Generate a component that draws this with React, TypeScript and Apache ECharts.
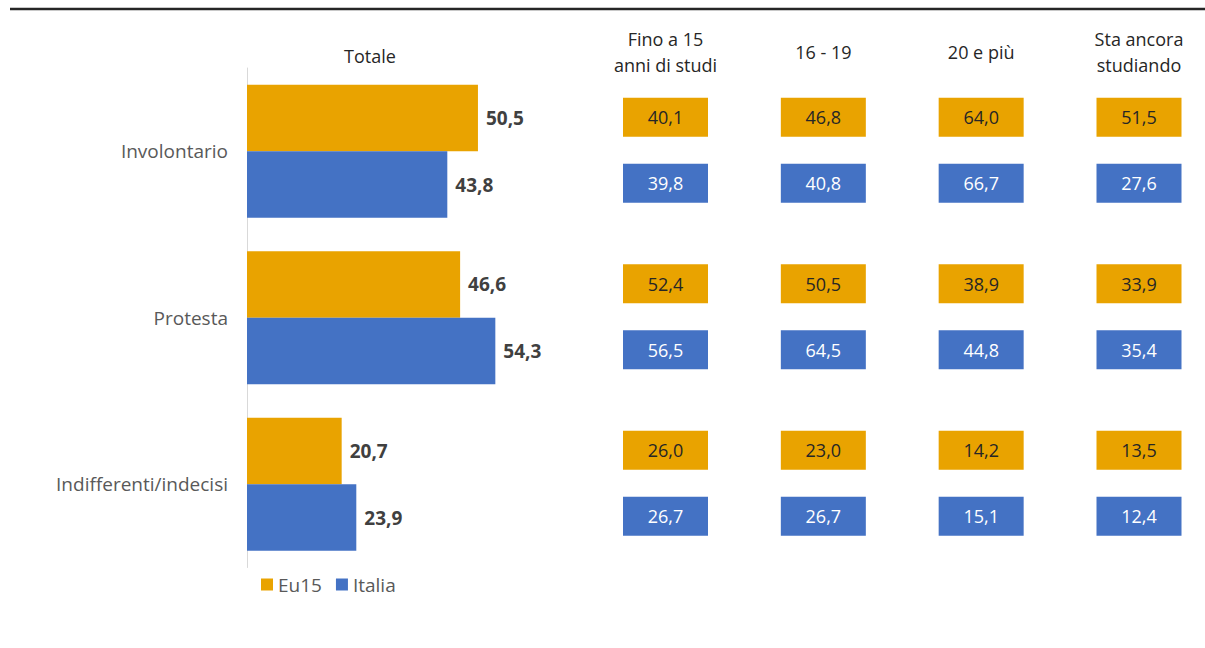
import React, { useEffect, useRef } from "react";
import * as echarts from "echarts";

const categories = ["Involontario", "Protesta", "Indifferenti/indecisi"];
const seriesNames = ["Eu15", "Italia"];
const totEu15 = [50.5, 46.6, 20.7];
const totItalia = [43.8, 54.3, 23.9];
const eduGroups = ["Fino a 15\nanni di studi", "16 - 19", "20 e più", "Sta ancora\nstudiando"];
// rows: categories; cols: eduGroups
const eduEu15 = [
  [40.1, 46.8, 64.0, 51.5],
  [52.4, 50.5, 38.9, 33.9],
  [26.0, 23.0, 14.2, 13.5],
];
const eduItalia = [
  [39.8, 40.8, 66.7, 27.6],
  [56.5, 64.5, 44.8, 35.4],
  [26.7, 26.7, 15.1, 12.4],
];

const ORANGE = "#E9A300";
const BLUE = "#4472C4";
const FONT = "Open Sans";

const fmt = (v: number) => v.toFixed(1).replace(".", ",");

export default function App() {
  const ref = useRef<HTMLDivElement>(null);
  useEffect(() => {
    document.body.style.margin = "0";
    const chart = echarts.init(ref.current!, null, { renderer: "svg" });
    const cellData = (m: number[][]) => {
      const out: any[] = [];
      m.forEach((row, r) => row.forEach((v, c) => out.push([eduGroups[c], categories[r], v])));
      return out;
    };
    const barLabel = {
      show: true,
      position: "right",
      distance: 8,
      formatter: (p: any) => fmt(p.value),
      fontFamily: FONT,
      fontSize: 19,
      fontWeight: "bold",
      color: "#404040",
    };
    chart.setOption({
      animation: false,
      textStyle: { fontFamily: FONT },
      title: {
        text: "Totale",
        left: 365,
        top: 42,
        textAlign: "center",
        textStyle: { fontFamily: FONT, fontSize: 18, fontWeight: "normal", color: "#262626" },
      },
      legend: {
        data: seriesNames,
        left: 256,
        top: 570,
        itemWidth: 12,
        itemHeight: 12,
        itemGap: 14,
        icon: "rect",
        textStyle: { fontFamily: FONT, fontSize: 19, color: "#595959" },
      },
      graphic: [
        {
          type: "line",
          shape: { x1: 10, y1: 9, x2: 1205, y2: 9 },
          style: { stroke: "#262626", lineWidth: 2.5 },
        },
      ],
      grid: [
        { left: 247, top: 68, width: 274.4, height: 499.5 },
        { left: 665.5, top: 68, width: 473.5, height: 499.5 },
      ],
      xAxis: [
        { type: "value", gridIndex: 0, min: 0, max: 60, show: false },
        {
          type: "category",
          gridIndex: 1,
          data: eduGroups,
          boundaryGap: false,
          position: "top",
          axisLine: { show: false },
          axisTick: { show: false },
          splitLine: { show: false },
          axisLabel: {
            margin: 16,
            verticalAlign: "middle",
            fontFamily: FONT,
            fontSize: 18,
            lineHeight: 26,
            color: "#262626",
          },
        },
      ],
      yAxis: [
        {
          type: "category",
          gridIndex: 0,
          data: categories,
          inverse: true,
          axisLine: { show: true, lineStyle: { color: "#d9d9d9", width: 1 } },
          axisTick: { show: false },
          axisLabel: { margin: 19, fontFamily: FONT, fontSize: 19, color: "#595959" },
        },
        { type: "category", gridIndex: 1, data: categories, inverse: true, show: false },
      ],
      series: [
        {
          name: "Eu15",
          type: "bar",
          xAxisIndex: 0,
          yAxisIndex: 0,
          data: totEu15,
          barGap: "0%",
          barCategoryGap: "20%",
          itemStyle: { color: ORANGE },
          label: barLabel,
        },
        {
          name: "Italia",
          type: "bar",
          xAxisIndex: 0,
          yAxisIndex: 0,
          data: totItalia,
          itemStyle: { color: BLUE },
          label: barLabel,
        },
        {
          name: "Eu15",
          type: "scatter",
          xAxisIndex: 1,
          yAxisIndex: 1,
          data: cellData(eduEu15),
          symbol: "rect",
          symbolSize: [85, 39],
          symbolOffset: [0, -34],
          itemStyle: { color: ORANGE, opacity: 1 },
          label: {
            show: true,
            position: "inside",
            formatter: (p: any) => fmt(p.value[2]),
            fontFamily: FONT,
            fontSize: 18,
            color: "#262626",
          },
        },
        {
          name: "Italia",
          type: "scatter",
          xAxisIndex: 1,
          yAxisIndex: 1,
          data: cellData(eduItalia),
          symbol: "rect",
          symbolSize: [85, 39],
          symbolOffset: [0, 32],
          itemStyle: { color: BLUE, opacity: 1 },
          label: {
            show: true,
            position: "inside",
            formatter: (p: any) => fmt(p.value[2]),
            fontFamily: FONT,
            fontSize: 18,
            color: "#ffffff",
          },
        },
      ],
    });
    return () => chart.dispose();
  }, []);
  return <div ref={ref} style={{ width: 1205, height: 648 }} />;
}
